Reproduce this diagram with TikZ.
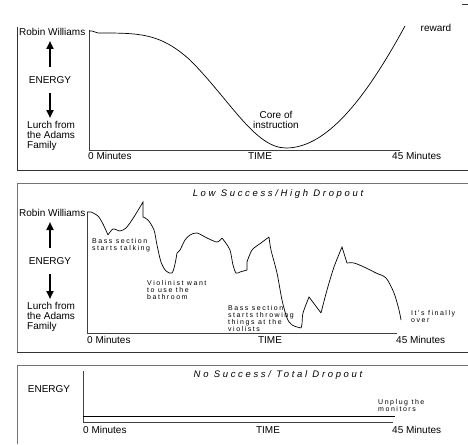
\documentclass[tikz,border=0pt]{standalone}
\usepackage{fontspec}
\setmainfont{Liberation Sans}
\newfontfamily\notefont[LetterSpace=22]{Liberation Sans}
\newfontfamily\titlefont[LetterSpace=28]{Liberation Sans}
\usetikzlibrary{arrows.meta}

\tikzset{
  lbl/.style={inner sep=0pt, font=\fontsize{10}{10}\selectfont},
  note/.style={inner sep=0pt, align=left, anchor=north west, font=\notefont\fontsize{7}{7}\selectfont},
  ttl/.style={inner sep=0pt, font=\titlefont\itshape\fontsize{9.5}{11}\selectfont},
  frame/.style={draw=black!80, line width=1pt},
  lightframe/.style={draw=black!55, line width=1pt},
  axis/.style={draw=black!75, line width=0.8pt},
  energyarrow/.style={line width=2pt, -{Triangle[length=8pt,width=7pt]}},
  curve/.style={line width=0.7pt},
}

\begin{document}
\begin{tikzpicture}[x=1pt,y=-1pt]
        \useasboundingbox (0,0) rectangle (468,444);
        % Frames round the three panels
        \draw[frame] (17,27) -- (17,170) -- (468,170);
        \draw[frame] (462,5) -- (468,5);
        \draw[lightframe] (468,183) -- (17,183) -- (17,352);
        \draw[frame] (17,352) -- (468,352);
        \draw[lightframe] (468,365) -- (17,365) -- (17,444);

        % Energy scale of the first two panels
        \foreach \off/\p in {0/a, 181/b} {
            \node[lbl, anchor=west] (robin\p) at (19,32+\off) {Robin Williams};
            \node[lbl] (energy\p) at (50,80+\off) {ENERGY};
            \node[lbl, anchor=north west, align=left] (lurch\p) at (27,121+\off) {Lurch from\\the Adams\\Family};
            \coordinate (upfoot\p) at (50,67+\off);
            \coordinate (uptip\p) at (50,41+\off);
            \coordinate (downfoot\p) at (50,93+\off);
            \coordinate (downtip\p) at (50,118+\off);
            \draw[energyarrow] (upfoot\p) -- (uptip\p);
            \draw[energyarrow] (downfoot\p) -- (downtip\p);
        }

        % Panel one: the ideal lesson
        \coordinate (top1) at (89,30);
        \coordinate (orig1) at (89,150);
        \coordinate (end1) at (400,150);
        \draw[axis] (top1) -- (orig1) -- (end1);
        \node[lbl, anchor=west] (zero1) at (88,156) {0 Minutes};
        \node[lbl] (time1) at (260,156) {TIME};
        \node[lbl, anchor=west] (last1) at (392,156) {45 Minutes};
        \draw[curve] (89,31) -- (92,31) -- (98,33) .. controls (140,33) and (160,33) .. (190,60)
            .. controls (230,100) and (255,148) .. (286,148)
            .. controls (330,148) and (370,90) .. (405,26);
        \node[lbl, align=center] (core) at (276,120) {Core of\\instruction};
        \node[lbl] (reward) at (436,28) {reward};

        % Panel two
        \node[ttl] (title2) at (278,194) {Low Success/High Dropout};
        \coordinate (top2) at (87,212);
        \coordinate (orig2) at (87,333);
        \coordinate (end2) at (397,333);
        \draw[axis] (top2) -- (orig2) -- (end2);
        \node[lbl, anchor=west] (zero2) at (87,340) {0 Minutes};
        \node[lbl] (time2) at (270,340) {TIME};
        \node[lbl, anchor=west] (last2) at (396,340) {45 Minutes};
        \draw[curve] (87,212) -- (91,212)
            plot[smooth] coordinates {(91,212) (98,216) (103,224) (108,235)}
            plot[smooth] coordinates {(108,235) (113,229) (120,231) (126,228) (132,220) (137,212) (143,202)}
            -- (143,217)
            plot[smooth] coordinates {(143,217) (148,220) (154,230) (157,245) (161,262) (166,271) (172,273) (175,264) (177,253)}
            plot[smooth] coordinates {(177,253) (180,250) (185,240) (190,235) (197,233) (207,238) (217,242) (222,238)}
            plot[smooth] coordinates {(222,238) (225,242) (230,250) (233,265) (236,273) (240,272)}
            -- (247,270) -- (247,262)
            plot[smooth] coordinates {(247,262) (252,250) (261,243) (269,237)}
            plot[smooth] coordinates {(269,237) (271,250) (277,273) (282,300) (287,318) (292,325) (301,328)}
            plot[smooth] coordinates {(301,328) (302,324) (303,313) (309,297)}
            -- (321,313)
            plot[smooth] coordinates {(321,313) (327,290) (334,267) (342,247)}
            -- (347,263)
            plot[smooth] coordinates {(347,263) (354,263) (364,267) (376,273) (386,278) (394,293) (399,310) (401,320)};
        \node[note] (talking) at (92,238.5) {Bass section\\starts talking};
        \node[note] (violinist) at (147,280.5) {Violinist want\\to use the\\bathroom};
        \node[note] (throwing) at (228,305.5) {Bass section\\starts throwing\\things at the\\violists};
        \node[note] (over) at (411,310.5) {It's finally\\over};

        % Panel three
        \node[ttl] (title3) at (278,375) {No Success/ Total Dropout};
        \node[lbl] (energyc) at (49,389) {ENERGY};
        \coordinate (top3) at (83,371);
        \coordinate (orig3) at (83,422);
        \coordinate (end3) at (393,422);
        \draw[axis] (top3) -- (orig3) -- (end3);
        \draw[curve] (83,416) -- (395,416);
        \node[note] (unplug) at (378,399.5) {Unplug the\\monitors};
        \node[lbl, anchor=west] (zero3) at (83,430) {0 Minutes};
        \node[lbl] (time3) at (268,430) {TIME};
        \node[lbl, anchor=west] (last3) at (392,430) {45 Minutes};
\end{tikzpicture}
\end{document}
